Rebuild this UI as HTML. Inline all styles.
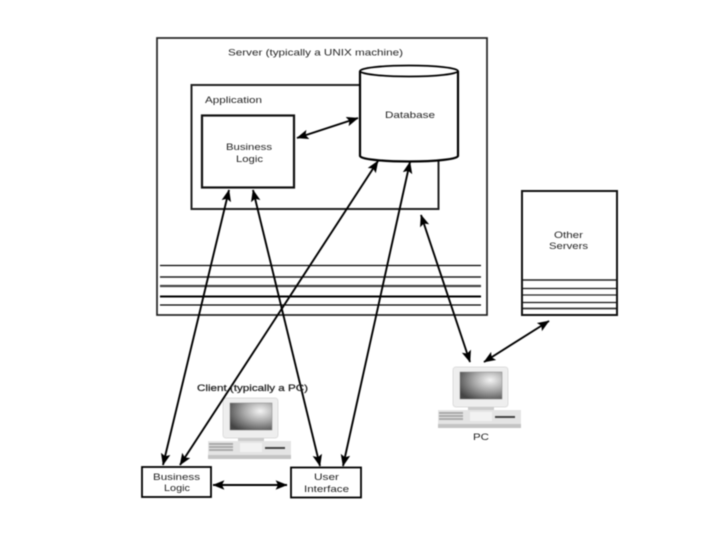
<!DOCTYPE html>
<html><head><meta charset="utf-8"><style>
html,body{margin:0;padding:0;background:#fff;width:720px;height:540px;overflow:hidden}
svg{display:block;filter:blur(0.5px)}
text{font-family:"Liberation Sans",sans-serif;font-size:9.5px;fill:#222}
</style></head><body>
<svg width="720" height="540" viewBox="0 0 720 540" xmlns="http://www.w3.org/2000/svg">
<defs>
<marker id="a" viewBox="0 0 10 8" refX="9.5" refY="4" markerUnits="userSpaceOnUse" markerWidth="12" markerHeight="9.600" orient="auto-start-reverse"><path d="M0 0L10 4L0 8L2 4Z" fill="#000"/></marker>
<radialGradient id="s" cx="0.72" cy="0.3" r="0.85"><stop offset="0" stop-color="#f4f4f4"/><stop offset="0.45" stop-color="#aaa"/><stop offset="1" stop-color="#444"/></radialGradient>
<g id="pc">
<rect x="15" y="0" width="55" height="40" rx="3" fill="#eee" stroke="#ddd"/>
<rect x="22" y="5" width="42" height="27" fill="url(#s)" stroke="#888" stroke-width=".5"/>
<rect x="30" y="40" width="26" height="4" fill="#ccc"/>
<rect x="0" y="43" width="83" height="14" fill="#e4e4e4"/>
<rect x="0" y="57" width="83" height="4" fill="#c4c4c4"/>
<path d="M1 46H25M1 49H25M1 52H25" stroke="#aaa" stroke-width="2"/>
<rect x="32" y="45" width="22" height="9" fill="#f2f2f2"/>
<rect x="57" y="49" width="20" height="2" fill="#444"/>
</g>
</defs>

<!-- Server -->
<rect x="157" y="38" width="330" height="277" fill="#fff" stroke="#222" stroke-width="1.700"/>
<!-- Application -->
<rect x="191.500" y="85" width="247" height="124" fill="#fff" stroke="#222" stroke-width="2"/>
<!-- Business Logic -->
<rect x="202" y="115.500" width="92" height="72" fill="#fff" stroke="#111" stroke-width="2.200"/>
<!-- Database -->
<path d="M360 71V156A49 5.500 0 0 0 458 156V71" fill="#fff" stroke="#000" stroke-width="2.200"/>
<ellipse cx="409" cy="71" rx="49" ry="5.500" fill="#fff" stroke="#000" stroke-width="1.800"/>

<!-- server lines -->
<g stroke="#000" fill="none">
<path d="M160 265.500H481" stroke-width="1.300"/>
<path d="M160 277H481" stroke="#222" stroke-width="1.500"/>
<path d="M160 286H481" stroke="#444" stroke-width="2.200"/>
<path d="M160 296.500H481" stroke-width="2"/>
<path d="M160 305H481" stroke-width="1.300"/>
</g>

<!-- Other Servers -->
<rect x="522" y="191" width="95" height="124" fill="#fff" stroke="#111" stroke-width="2"/>
<g stroke="#111" fill="none">
<path d="M523 280H616" stroke="#222" stroke-width="1.400"/>
<path d="M523 288.500H616" stroke-width="1.300"/>
<path d="M523 295H616" stroke="#222" stroke-width="1.300"/>
<path d="M523 302.500H616" stroke-width="1.300"/>
<path d="M523 308.500H616" stroke="#333" stroke-width="1.700"/>
</g>

<!-- Client boxes -->
<rect x="142" y="467" width="69" height="30" fill="#fff" stroke="#000" stroke-width="1.800"/>
<rect x="291" y="467.500" width="70" height="30" fill="#fff" stroke="#000" stroke-width="1.800"/>

<!-- Computers -->
<use href="#pc" x="208" y="398"/>
<use href="#pc" x="438" y="367"/>

<!-- Arrows -->
<g stroke="#000" stroke-width="1.900" fill="none">
<line x1="297" y1="138" x2="358" y2="118" marker-start="url(#a)" marker-end="url(#a)"/>
<line x1="229" y1="190" x2="163" y2="465" marker-start="url(#a)" marker-end="url(#a)"/>
<line x1="253" y1="190" x2="320" y2="466" marker-start="url(#a)" marker-end="url(#a)"/>
<line x1="378" y1="161" x2="180" y2="465" marker-start="url(#a)" marker-end="url(#a)"/>
<line x1="410" y1="162" x2="343" y2="466" marker-start="url(#a)" marker-end="url(#a)"/>
<line x1="421" y1="215" x2="470" y2="362" marker-start="url(#a)" marker-end="url(#a)"/>
<line x1="549" y1="321" x2="484" y2="362" marker-start="url(#a)" marker-end="url(#a)"/>
<line x1="213" y1="485" x2="287" y2="485" marker-start="url(#a)" marker-end="url(#a)"/>
</g>

<!-- Labels -->
<text x="228" y="55.500" textLength="175" lengthAdjust="spacingAndGlyphs">Server (typically a UNIX machine)</text>
<text x="205" y="103" textLength="57" lengthAdjust="spacingAndGlyphs">Application</text>
<text x="226" y="150" textLength="46" lengthAdjust="spacingAndGlyphs">Business</text>
<text x="236" y="162" textLength="27" lengthAdjust="spacingAndGlyphs">Logic</text>
<text x="385" y="118" textLength="50" lengthAdjust="spacingAndGlyphs">Database</text>
<text x="554" y="238" textLength="29" lengthAdjust="spacingAndGlyphs">Other</text>
<text x="549" y="249" textLength="39" lengthAdjust="spacingAndGlyphs">Servers</text>
<text x="197" y="391" textLength="111" lengthAdjust="spacingAndGlyphs" style="stroke:#222;stroke-width:.25">Client (typically a PC)</text>
<text x="473" y="440" textLength="16" lengthAdjust="spacingAndGlyphs">PC</text>
<text x="153" y="480" textLength="47" lengthAdjust="spacingAndGlyphs">Business</text>
<text x="164" y="491" textLength="26" lengthAdjust="spacingAndGlyphs">Logic</text>
<text x="314" y="480" textLength="25" lengthAdjust="spacingAndGlyphs">User</text>
<text x="304" y="492" textLength="45" lengthAdjust="spacingAndGlyphs">Interface</text>
</svg>
</body></html>
